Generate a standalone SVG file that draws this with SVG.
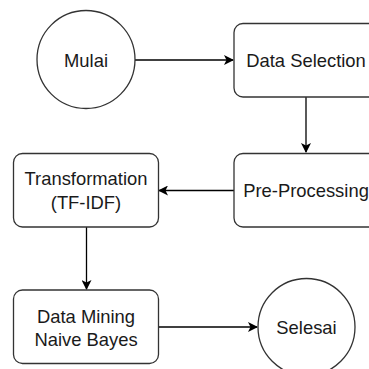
<svg xmlns="http://www.w3.org/2000/svg" width="369" height="369" viewBox="0 0 369 369">
<style>
.n{fill:#fff;stroke:#333;stroke-width:1.3}
.t{font-family:"Liberation Sans",Arial,sans-serif;font-size:18.4px;fill:#1a1a1a;text-anchor:middle;dominant-baseline:central}
.c{fill:none;stroke:#000;stroke-width:1.3}
</style>
<defs>
<marker id="a" viewBox="0 0 10 10" refX="9" refY="5" markerWidth="10" markerHeight="10" markerUnits="userSpaceOnUse" orient="auto">
<path d="M0,0 L10,5 L0,10 L2.5,5 Z" fill="#000"/>
</marker>
</defs>
<rect width="369" height="369" fill="#fff"/>
<g id="connectors">
<line class="c" x1="135" y1="60" x2="233" y2="60" marker-end="url(#a)"/>
<line class="c" x1="306" y1="97" x2="306" y2="152" marker-end="url(#a)"/>
<line class="c" x1="234" y1="190.5" x2="159" y2="190.5" marker-end="url(#a)"/>
<line class="c" x1="86.5" y1="227" x2="86.5" y2="289" marker-end="url(#a)"/>
<line class="c" x1="158" y1="327" x2="257" y2="327" marker-end="url(#a)"/>
</g>
<g id="mulai"><circle class="n" cx="86" cy="59.5" r="49"/><text class="t" x="86" y="60">Mulai</text></g>
<g id="data-selection"><rect class="n" x="234" y="23.5" width="144" height="73.5" rx="9"/><text class="t" x="306" y="60">Data Selection</text></g>
<g id="pre-processing"><rect class="n" x="234" y="153.5" width="144" height="73.5" rx="9"/><text class="t" x="306" y="190.5">Pre-Processing</text></g>
<g id="transformation"><rect class="n" x="13.5" y="153.5" width="145" height="73.5" rx="9"/><text class="t" x="86" y="178.5">Transformation</text><text class="t" x="86" y="202">(TF-IDF)</text></g>
<g id="data-mining"><rect class="n" x="13.5" y="290" width="145" height="73.5" rx="9"/><text class="t" x="86" y="316">Data Mining</text><text class="t" x="86" y="339.5">Naive Bayes</text></g>
<g id="selesai"><circle class="n" cx="306.5" cy="327" r="48.5"/><text class="t" x="306.5" y="327">Selesai</text></g>
</svg>
